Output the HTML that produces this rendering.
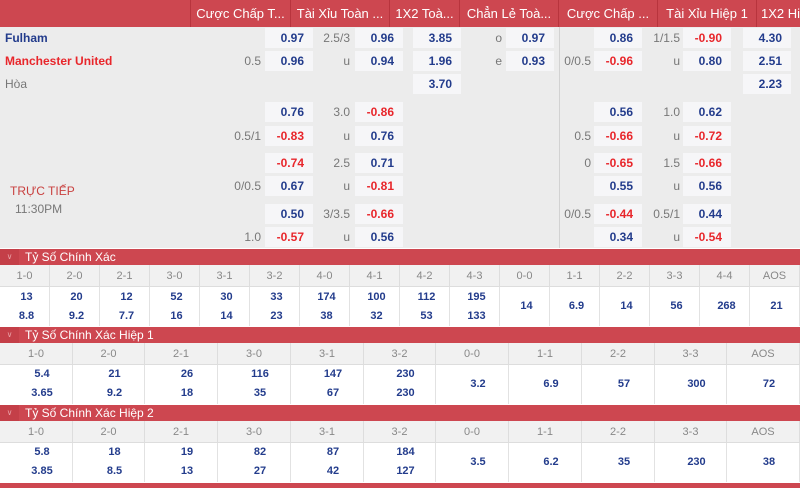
<!DOCTYPE html>
<html><head><meta charset="utf-8"><style>
*{margin:0;padding:0;box-sizing:border-box}
body{width:800px;height:488px;overflow:hidden;background:#fff;font-family:"Liberation Sans","DejaVu Sans",sans-serif;font-size:12px;position:relative}
div{position:absolute}
.hd{top:0;height:27px;background:#cd4750;color:#fff;font-size:13px;line-height:27px;text-align:center;white-space:nowrap;overflow:hidden;border-right:1px solid #b8343d}
.bx{width:48px;height:20px;background:#f6f6f8;line-height:20px;text-align:right;padding-right:9px;font-weight:bold;color:#233c8c}
.r{color:#e8262b}
.lb{width:60px;height:20px;line-height:20px;text-align:right;color:#777}
.sh{left:0;width:800px;height:16px;background:#cd4750;color:#fff;font-size:12px;line-height:16px;padding-left:25px}
.sh span{position:absolute;left:0;top:0;width:19px;height:16px;background:#c43f48;color:#e9a0a5;font-size:8px;text-align:center;line-height:16px}
.lr{left:0;width:800px;height:22px;background:#f1f1f1;border-bottom:1px solid #ddd}
.lc{height:22px;line-height:22px;text-align:center;color:#888;font-size:11px;top:0;border-right:1px solid #ddd}
.vc{text-align:center;color:#233c8c;font-weight:bold;font-size:11px;border-right:1px solid #e2e2e2}
</style></head><body>
<div class="hd" style="left:0;width:191px"></div>
<div class="hd" style="left:191px;width:100px">Cược Chấp T...</div>
<div class="hd" style="left:291px;width:99px">Tài Xỉu Toàn ...</div>
<div class="hd" style="left:390px;width:70px">1X2 Toà...</div>
<div class="hd" style="left:460px;width:99px">Chẳn Lẻ Toà...</div>
<div class="hd" style="left:559px;width:99px">Cược Chấp ...</div>
<div class="hd" style="left:658px;width:99px">Tài Xỉu Hiệp 1</div>
<div class="hd" style="left:757px;width:60px;text-align:left;padding-left:4px">1X2 Hiệp 1</div>
<div style="left:0;top:27px;width:800px;height:221px;background:#ececec"></div>
<div style="left:559px;top:27px;width:1px;height:221px;background:#d2d2d2"></div>
<div style="left:5px;top:31px;font-weight:bold;color:#233c8c">Fulham</div>
<div style="left:5px;top:54px;font-weight:bold;color:#e8262b">Manchester United</div>
<div style="left:5px;top:77px;color:#777">Hòa</div>
<div style="left:10px;top:184px;color:#c9403f">TRỰC TIẾP</div>
<div style="left:15px;top:202px;color:#777">11:30PM</div>

<div class="bx" style="left:265px;top:28px">0.97</div>
<div class="lb" style="left:290px;top:28px">2.5/3</div><div class="bx" style="left:355px;top:28px">0.96</div>
<div class="bx" style="left:413px;top:28px">3.85</div>
<div class="lb" style="left:442px;top:28px">o</div><div class="bx" style="left:506px;top:28px">0.97</div>
<div class="bx" style="left:594px;top:28px">0.86</div>
<div class="lb" style="left:620px;top:28px">1/1.5</div><div class="bx r" style="left:683px;top:28px">-0.90</div>
<div class="bx" style="left:743px;top:28px">4.30</div>
<div class="lb" style="left:201px;top:51px">0.5</div><div class="bx" style="left:265px;top:51px">0.96</div>
<div class="lb" style="left:290px;top:51px">u</div><div class="bx" style="left:355px;top:51px">0.94</div>
<div class="bx" style="left:413px;top:51px">1.96</div>
<div class="lb" style="left:442px;top:51px">e</div><div class="bx" style="left:506px;top:51px">0.93</div>
<div class="lb" style="left:531px;top:51px">0/0.5</div><div class="bx r" style="left:594px;top:51px">-0.96</div>
<div class="lb" style="left:620px;top:51px">u</div><div class="bx" style="left:683px;top:51px">0.80</div>
<div class="bx" style="left:743px;top:51px">2.51</div>
<div class="bx" style="left:413px;top:74px">3.70</div>
<div class="bx" style="left:743px;top:74px">2.23</div>
<div class="bx" style="left:265px;top:102px">0.76</div>
<div class="lb" style="left:290px;top:102px">3.0</div><div class="bx r" style="left:355px;top:102px">-0.86</div>
<div class="bx" style="left:594px;top:102px">0.56</div>
<div class="lb" style="left:620px;top:102px">1.0</div><div class="bx" style="left:683px;top:102px">0.62</div>
<div class="lb" style="left:201px;top:126px">0.5/1</div><div class="bx r" style="left:265px;top:126px">-0.83</div>
<div class="lb" style="left:290px;top:126px">u</div><div class="bx" style="left:355px;top:126px">0.76</div>
<div class="lb" style="left:531px;top:126px">0.5</div><div class="bx r" style="left:594px;top:126px">-0.66</div>
<div class="lb" style="left:620px;top:126px">u</div><div class="bx r" style="left:683px;top:126px">-0.72</div>
<div class="bx r" style="left:265px;top:153px">-0.74</div>
<div class="lb" style="left:290px;top:153px">2.5</div><div class="bx" style="left:355px;top:153px">0.71</div>
<div class="lb" style="left:531px;top:153px">0</div><div class="bx r" style="left:594px;top:153px">-0.65</div>
<div class="lb" style="left:620px;top:153px">1.5</div><div class="bx r" style="left:683px;top:153px">-0.66</div>
<div class="lb" style="left:201px;top:176px">0/0.5</div><div class="bx" style="left:265px;top:176px">0.67</div>
<div class="lb" style="left:290px;top:176px">u</div><div class="bx r" style="left:355px;top:176px">-0.81</div>
<div class="bx" style="left:594px;top:176px">0.55</div>
<div class="lb" style="left:620px;top:176px">u</div><div class="bx" style="left:683px;top:176px">0.56</div>
<div class="bx" style="left:265px;top:204px">0.50</div>
<div class="lb" style="left:290px;top:204px">3/3.5</div><div class="bx r" style="left:355px;top:204px">-0.66</div>
<div class="lb" style="left:531px;top:204px">0/0.5</div><div class="bx r" style="left:594px;top:204px">-0.44</div>
<div class="lb" style="left:620px;top:204px">0.5/1</div><div class="bx" style="left:683px;top:204px">0.44</div>
<div class="lb" style="left:201px;top:227px">1.0</div><div class="bx r" style="left:265px;top:227px">-0.57</div>
<div class="lb" style="left:290px;top:227px">u</div><div class="bx" style="left:355px;top:227px">0.56</div>
<div class="bx" style="left:594px;top:227px">0.34</div>
<div class="lb" style="left:620px;top:227px">u</div><div class="bx r" style="left:683px;top:227px">-0.54</div>

<div class="sh" style="top:249px"><span>&#8744;</span>Tỷ Số Chính Xác</div>
<div class="lr" style="top:265px">
<div class="lc" style="left:0;width:50px">1-0</div><div class="lc" style="left:50px;width:50px">2-0</div><div class="lc" style="left:100px;width:50px">2-1</div><div class="lc" style="left:150px;width:50px">3-0</div><div class="lc" style="left:200px;width:50px">3-1</div><div class="lc" style="left:250px;width:50px">3-2</div><div class="lc" style="left:300px;width:50px">4-0</div><div class="lc" style="left:350px;width:50px">4-1</div><div class="lc" style="left:400px;width:50px">4-2</div><div class="lc" style="left:450px;width:50px">4-3</div><div class="lc" style="left:500px;width:50px">0-0</div><div class="lc" style="left:550px;width:50px">1-1</div><div class="lc" style="left:600px;width:50px">2-2</div><div class="lc" style="left:650px;width:50px">3-3</div><div class="lc" style="left:700px;width:50px">4-4</div><div class="lc" style="left:750px;width:50px">AOS</div>
</div>
<div style="left:0;top:287px;width:800px;height:39px">
<div class="vc" style="left:0;top:0;width:50px;height:39px;line-height:19px;padding:1px 0 0 4px">13<br>8.8</div>
<div class="vc" style="left:50px;top:0;width:50px;height:39px;line-height:19px;padding:1px 0 0 4px">20<br>9.2</div>
<div class="vc" style="left:100px;top:0;width:50px;height:39px;line-height:19px;padding:1px 0 0 4px">12<br>7.7</div>
<div class="vc" style="left:150px;top:0;width:50px;height:39px;line-height:19px;padding:1px 0 0 4px">52<br>16</div>
<div class="vc" style="left:200px;top:0;width:50px;height:39px;line-height:19px;padding:1px 0 0 4px">30<br>14</div>
<div class="vc" style="left:250px;top:0;width:50px;height:39px;line-height:19px;padding:1px 0 0 4px">33<br>23</div>
<div class="vc" style="left:300px;top:0;width:50px;height:39px;line-height:19px;padding:1px 0 0 4px">174<br>38</div>
<div class="vc" style="left:350px;top:0;width:50px;height:39px;line-height:19px;padding:1px 0 0 4px">100<br>32</div>
<div class="vc" style="left:400px;top:0;width:50px;height:39px;line-height:19px;padding:1px 0 0 4px">112<br>53</div>
<div class="vc" style="left:450px;top:0;width:50px;height:39px;line-height:19px;padding:1px 0 0 4px">195<br>133</div>
<div class="vc" style="left:500px;top:0;width:50px;height:39px;line-height:39px;padding-left:4px">14</div>
<div class="vc" style="left:550px;top:0;width:50px;height:39px;line-height:39px;padding-left:4px">6.9</div>
<div class="vc" style="left:600px;top:0;width:50px;height:39px;line-height:39px;padding-left:4px">14</div>
<div class="vc" style="left:650px;top:0;width:50px;height:39px;line-height:39px;padding-left:4px">56</div>
<div class="vc" style="left:700px;top:0;width:50px;height:39px;line-height:39px;padding-left:4px">268</div>
<div class="vc" style="left:750px;top:0;width:50px;height:39px;line-height:39px;padding-left:4px">21</div>
</div>

<div class="sh" style="top:327px"><span>&#8744;</span>Tỷ Số Chính Xác Hiệp 1</div>
<div class="lr" style="top:343px">
<div class="lc" style="left:0;width:73px">1-0</div><div class="lc" style="left:73px;width:72px">2-0</div><div class="lc" style="left:145px;width:73px">2-1</div><div class="lc" style="left:218px;width:73px">3-0</div><div class="lc" style="left:291px;width:73px">3-1</div><div class="lc" style="left:364px;width:72px">3-2</div><div class="lc" style="left:436px;width:73px">0-0</div><div class="lc" style="left:509px;width:73px">1-1</div><div class="lc" style="left:582px;width:73px">2-2</div><div class="lc" style="left:655px;width:72px">3-3</div><div class="lc" style="left:727px;width:73px">AOS</div>
</div>
<div style="left:0;top:365px;width:800px;height:39px">
<div class="vc" style="left:0;top:0;width:73px;height:39px;line-height:19px;padding:0 0 0 12px">5.4<br>3.65</div>
<div class="vc" style="left:73px;top:0;width:72px;height:39px;line-height:19px;padding:0 0 0 12px">21<br>9.2</div>
<div class="vc" style="left:145px;top:0;width:73px;height:39px;line-height:19px;padding:0 0 0 12px">26<br>18</div>
<div class="vc" style="left:218px;top:0;width:73px;height:39px;line-height:19px;padding:0 0 0 12px">116<br>35</div>
<div class="vc" style="left:291px;top:0;width:73px;height:39px;line-height:19px;padding:0 0 0 12px">147<br>67</div>
<div class="vc" style="left:364px;top:0;width:72px;height:39px;line-height:19px;padding:0 0 0 12px">230<br>230</div>
<div class="vc" style="left:436px;top:0;width:73px;height:39px;line-height:39px;padding-left:12px">3.2</div>
<div class="vc" style="left:509px;top:0;width:73px;height:39px;line-height:39px;padding-left:12px">6.9</div>
<div class="vc" style="left:582px;top:0;width:73px;height:39px;line-height:39px;padding-left:12px">57</div>
<div class="vc" style="left:655px;top:0;width:72px;height:39px;line-height:39px;padding-left:12px">300</div>
<div class="vc" style="left:727px;top:0;width:73px;height:39px;line-height:39px;padding-left:12px">72</div>
</div>

<div class="sh" style="top:405px"><span>&#8744;</span>Tỷ Số Chính Xác Hiệp 2</div>
<div class="lr" style="top:421px">
<div class="lc" style="left:0;width:73px">1-0</div><div class="lc" style="left:73px;width:72px">2-0</div><div class="lc" style="left:145px;width:73px">2-1</div><div class="lc" style="left:218px;width:73px">3-0</div><div class="lc" style="left:291px;width:73px">3-1</div><div class="lc" style="left:364px;width:72px">3-2</div><div class="lc" style="left:436px;width:73px">0-0</div><div class="lc" style="left:509px;width:73px">1-1</div><div class="lc" style="left:582px;width:73px">2-2</div><div class="lc" style="left:655px;width:72px">3-3</div><div class="lc" style="left:727px;width:73px">AOS</div>
</div>
<div style="left:0;top:443px;width:800px;height:39px">
<div class="vc" style="left:0;top:0;width:73px;height:39px;line-height:19px;padding:0 0 0 12px">5.8<br>3.85</div>
<div class="vc" style="left:73px;top:0;width:72px;height:39px;line-height:19px;padding:0 0 0 12px">18<br>8.5</div>
<div class="vc" style="left:145px;top:0;width:73px;height:39px;line-height:19px;padding:0 0 0 12px">19<br>13</div>
<div class="vc" style="left:218px;top:0;width:73px;height:39px;line-height:19px;padding:0 0 0 12px">82<br>27</div>
<div class="vc" style="left:291px;top:0;width:73px;height:39px;line-height:19px;padding:0 0 0 12px">87<br>42</div>
<div class="vc" style="left:364px;top:0;width:72px;height:39px;line-height:19px;padding:0 0 0 12px">184<br>127</div>
<div class="vc" style="left:436px;top:0;width:73px;height:39px;line-height:39px;padding-left:12px">3.5</div>
<div class="vc" style="left:509px;top:0;width:73px;height:39px;line-height:39px;padding-left:12px">6.2</div>
<div class="vc" style="left:582px;top:0;width:73px;height:39px;line-height:39px;padding-left:12px">35</div>
<div class="vc" style="left:655px;top:0;width:72px;height:39px;line-height:39px;padding-left:12px">230</div>
<div class="vc" style="left:727px;top:0;width:73px;height:39px;line-height:39px;padding-left:12px">38</div>
</div>
<div style="left:0;top:483px;width:800px;height:5px;background:#cd4750"></div>
</body></html>
